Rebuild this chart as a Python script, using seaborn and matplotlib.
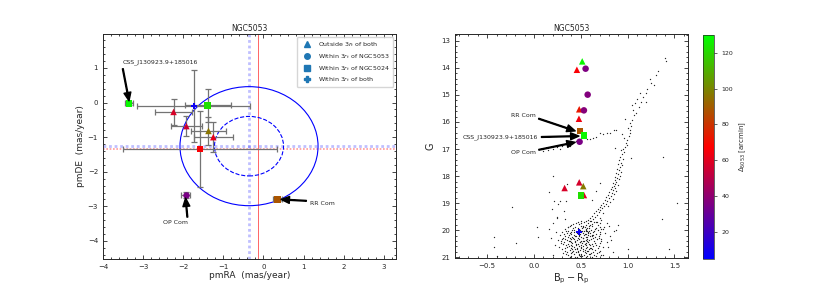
""" Proper-motion and CMD view of variable stars around NGC5053. """

###########
# Imports #
###########
import numpy as np
import pandas as pd
import matplotlib
matplotlib.use('Agg')
import matplotlib.pyplot as plt
from matplotlib.lines import Line2D
from matplotlib.patches import Circle
import seaborn as sns


########
# Data #
########
# Variable stars with proper motions (left panel)
pm_ra = [-3.35, -1.39, -1.74, -2.24, -1.92, -1.37, -1.25, -1.58, -1.94, 0.35]
pm_de = [-0.02, -0.08, -0.10, -0.27, -0.68, -0.82, -1.00, -1.34, -2.67, -2.80]
pm_ra_err = [0.10, 0.57, 1.41, 0.46, 0.38, 0.44, 0.49, 1.91, 0.12, 0.10]
pm_de_err = [0.05, 0.47, 1.03, 0.37, 0.28, 0.41, 0.44, 1.11, 0.08, 0.05]
pm_dist = [128, 122, 8, 58, 55, 96, 62, 66, 35, 88]
pm_kind = ['NGC5024', 'NGC5024', 'both', 'outside', 'outside', 'outside',
           'outside', 'NGC5024', 'NGC5053', 'NGC5024']

# Cluster mean motions
ngc5053_pm = (-0.36, -1.26)
ngc5024_pm = (-0.14, -1.35)
pm_radii = [1.72, 0.86]

# Variable stars on the CMD (right panel)
var_bp_rp = [0.515, 0.458, 0.551, 0.573, 0.483, 0.533, 0.480, 0.490,
             0.536, 0.487, 0.483, 0.327, 0.526, 0.533, 0.504, 0.476]
var_g = [13.76, 14.07, 14.03, 14.99, 15.53, 15.57, 15.88, 16.33,
         16.50, 16.73, 18.23, 18.44, 18.37, 18.70, 18.72, 20.07]
var_dist = [128, 66, 36, 37, 73, 38, 64, 88,
            128, 35, 57, 58, 97, 60, 122, 8]
var_kind = ['outside', 'outside', 'NGC5053', 'NGC5053', 'outside', 'NGC5053',
            'outside', 'NGC5024', 'NGC5024', 'NGC5053', 'outside', 'outside',
            'outside', 'outside', 'NGC5024', 'both']

# Cluster members on the CMD
cmd_bp_rp = [
    # upper giant branch
    1.40, 1.41, 1.32, 1.30, 1.24, 1.245, 1.28, 1.21, 1.20, 1.13, 1.16, 1.20,
    1.08, 1.14, 1.05, 1.12, 1.09, 1.07, 1.05, 0.975, 1.04, 1.02, 1.025, 1.01,
    0.99, 0.985, 0.97, 0.94, 1.06, 1.10, 1.03, 1.00, 0.96, 0.995,
    # horizontal branch
    0.85, 0.88, 0.81, 0.78, 0.71, 0.66, 0.63, 0.60, 0.57, 0.45, 0.40, 0.35,
    0.30, 0.25, 0.20, 0.15, 0.10, 0.38, 0.28, 0.74,
    # lower giant branch
    0.95, 0.93, 0.96, 0.94, 0.92, 0.95, 0.91, 0.93,
    0.90, 0.94, 0.92, 0.89, 0.91, 0.93, 0.88, 0.90,
    0.92, 0.87, 0.89, 0.91, 0.86, 0.88, 0.84, 0.87,
    0.90, 0.85, 0.83, 0.86, 0.82, 0.84, 0.88, 0.80,
    0.83, 0.85, 0.79, 0.82, 0.77, 0.80, 0.84, 0.76,
    0.78, 0.81, 0.74, 0.77, 0.72, 0.75, 0.79, 0.70,
    0.73, 0.68, 0.71, 0.66, 0.69, 0.74, 0.64, 0.67,
    0.62, 0.65, 0.60, 0.70, 0.63, 0.58, 0.61, 0.67,
    # turnoff and main sequence
    0.50, 0.55, 0.72,
    0.45, 0.53, 0.58, 0.64, 0.78,
    0.40, 0.48, 0.52, 0.56, 0.60, 0.68,
    0.38, 0.44, 0.50, 0.54, 0.57, 0.62, 0.70, 0.80,
    0.33, 0.42, 0.47, 0.51, 0.55, 0.59, 0.65, 0.74,
    0.36, 0.41, 0.45, 0.49, 0.53, 0.57, 0.61, 0.68, 0.85,
    0.30, 0.39, 0.43, 0.50, 0.55, 0.58, 0.63, 0.71,
    0.35, 0.40, 0.46, 0.52, 0.56, 0.60, 0.66, 0.76,
    0.28, 0.37, 0.44, 0.48, 0.53, 0.58, 0.62, 0.69,
    0.33, 0.41, 0.45, 0.50, 0.55, 0.60, 0.65, 0.81,
    0.30, 0.38, 0.43, 0.47, 0.52, 0.57, 0.63, 0.72,
    0.26, 0.35, 0.40, 0.46, 0.50, 0.55, 0.59, 0.67,
    0.32, 0.37, 0.44, 0.49, 0.53, 0.58, 0.64, 0.78,
    0.29, 0.36, 0.41, 0.47, 0.51, 0.56, 0.62, 0.70,
    0.34, 0.39, 0.45, 0.50, 0.54, 0.60, 0.66,
    0.27, 0.37, 0.43, 0.48, 0.52, 0.57, 0.63, 0.74,
    0.33, 0.40, 0.46, 0.50, 0.55, 0.61, 0.68,
    0.30, 0.38, 0.44, 0.49, 0.54, 0.59, 0.65,
    0.35, 0.42, 0.47, 0.52, 0.58, 0.63, 0.71,
    0.31, 0.39, 0.45, 0.50, 0.56, 0.61, 0.67,
    0.36, 0.43, 0.48, 0.53, 0.59, 0.64,
    0.40, 0.46, 0.51, 0.57, 0.62,
    0.47, 0.60, 0.66,
    0.42, 0.50, 0.62, 0.70,
    0.36, 0.47, 0.52, 0.59, 0.66, 0.75,
    0.34, 0.43, 0.47, 0.51, 0.55, 0.59, 0.64, 0.72,
    0.32, 0.38, 0.43, 0.49, 0.54, 0.58, 0.63, 0.70,
    0.31, 0.36, 0.42, 0.48, 0.52, 0.57, 0.62, 0.69,
    0.29, 0.33, 0.38, 0.44, 0.48, 0.52, 0.57, 0.61, 0.72,
    0.31, 0.39, 0.45, 0.49, 0.54, 0.59, 0.65,
    0.35, 0.41, 0.46, 0.50, 0.55, 0.60, 0.69,
    0.33, 0.41, 0.47, 0.52, 0.57, 0.62,
    0.34, 0.41, 0.48, 0.54, 0.60, 0.69,
    0.38, 0.44, 0.49, 0.55, 0.66, 0.72,
    # field stars and outliers
    0.20, 0.16, -0.23, -0.43, -0.43, -0.39, 0.03, -0.19,
    0.26, 0.21, 0.34, 0.355, 0.70, 1.00, 1.38, 1.53,
    1.37, 1.44, 1.035, 0.86, 0.28, 0.19, 0.32, 0.245,
    0.33, 0.16, 0.365, 0.04, 0.62, 0.66, 0.25, 0.20,
    0.23, 0.18, 0.22, 0.20, 0.82, 0.88, 0.79, 0.84,
    0.74, 0.90,
]
cmd_g = [
    # upper giant branch
    13.65, 13.74, 14.10, 14.25, 14.42, 14.55, 14.62, 14.79, 14.92, 14.94, 15.09, 15.26,
    15.31, 15.25, 15.38, 15.45, 15.68, 15.75, 15.93, 15.88, 16.15, 16.30, 16.42, 16.53,
    16.66, 16.78, 16.93, 16.45, 15.55, 15.15, 16.05, 16.22, 16.60, 16.85,
    # horizontal branch
    16.30, 16.31, 16.39, 16.42, 16.39, 16.54, 16.59, 16.63, 16.62, 16.72, 16.78, 16.84,
    16.88, 16.93, 16.98, 17.04, 17.08, 16.90, 17.00, 16.45,
    # lower giant branch
    16.98, 17.05, 17.12, 17.20, 17.28, 17.35, 17.42, 17.50,
    17.55, 17.60, 17.66, 17.72, 17.78, 17.83, 17.88, 17.93,
    17.98, 18.02, 18.07, 18.12, 18.15, 18.20, 18.24, 18.28,
    18.31, 18.35, 18.40, 18.44, 18.48, 18.52, 18.55, 18.58,
    18.62, 18.66, 18.70, 18.73, 18.78, 18.81, 18.84, 18.88,
    18.92, 18.95, 18.99, 19.02, 19.06, 19.09, 19.12, 19.15,
    19.18, 19.22, 19.26, 19.30, 19.33, 19.36, 19.38, 19.42,
    19.46, 19.50, 19.54, 19.55, 19.58, 19.62, 19.66, 19.68,
    # turnoff and main sequence
    19.64, 19.67, 19.63,
    19.73, 19.70, 19.75, 19.71, 19.74,
    19.81, 19.78, 19.83, 19.79, 19.82, 19.80,
    19.86, 19.89, 19.85, 19.88, 19.90, 19.86, 19.88, 19.85,
    19.95, 19.92, 19.96, 19.93, 19.95, 19.92, 19.94, 19.96,
    20.01, 19.99, 20.02, 19.98, 20.01, 20.03, 19.99, 20.00, 20.02,
    20.07, 20.05, 20.08, 20.06, 20.04, 20.07, 20.05, 20.08,
    20.11, 20.14, 20.12, 20.10, 20.13, 20.11, 20.14, 20.12,
    20.19, 20.17, 20.20, 20.18, 20.16, 20.19, 20.17, 20.20,
    20.23, 20.25, 20.22, 20.26, 20.24, 20.22, 20.25, 20.23,
    20.31, 20.29, 20.32, 20.30, 20.28, 20.31, 20.29, 20.32,
    20.35, 20.37, 20.34, 20.36, 20.38, 20.35, 20.37, 20.34,
    20.43, 20.41, 20.44, 20.42, 20.40, 20.43, 20.41, 20.44,
    20.47, 20.49, 20.46, 20.50, 20.48, 20.47, 20.49, 20.46,
    20.55, 20.53, 20.56, 20.54, 20.52, 20.55, 20.53,
    20.61, 20.59, 20.62, 20.60, 20.58, 20.61, 20.59, 20.62,
    20.67, 20.65, 20.68, 20.66, 20.64, 20.67, 20.65,
    20.71, 20.73, 20.70, 20.74, 20.72, 20.71, 20.73,
    20.79, 20.77, 20.80, 20.78, 20.76, 20.79, 20.77,
    20.83, 20.85, 20.82, 20.86, 20.84, 20.83, 20.85,
    20.91, 20.89, 20.92, 20.90, 20.88, 20.91,
    20.96, 20.98, 20.95, 20.97, 20.99,
    19.68, 19.66, 19.69,
    19.76, 19.74, 19.77, 19.75,
    19.87, 19.91, 19.87, 19.84, 19.91, 19.89,
    20.03, 20.00, 20.05, 20.02, 19.98, 20.01, 20.04, 19.97,
    20.15, 20.12, 20.16, 20.13, 20.15, 20.09, 20.16, 20.13,
    20.27, 20.24, 20.28, 20.21, 20.27, 20.26, 20.21, 20.28,
    20.39, 20.33, 20.40, 20.39, 20.33, 20.40, 20.38, 20.33, 20.39,
    20.51, 20.45, 20.52, 20.45, 20.51, 20.50, 20.46,
    20.63, 20.57, 20.64, 20.63, 20.56, 20.64, 20.58,
    20.75, 20.69, 20.76, 20.69, 20.75, 20.69,
    20.87, 20.81, 20.88, 20.81, 20.87, 20.82,
    20.99, 21.00, 20.94, 21.00, 20.95, 20.93,
    # field stars and outliers
    17.99, 18.60, 19.13, 20.26, 20.62, 20.95, 19.89, 20.47,
    19.02, 18.92, 18.93, 18.30, 18.25, 20.69, 17.28, 18.98,
    19.57, 20.68, 17.34, 16.95, 18.92, 19.22, 19.28, 19.55,
    19.60, 19.96, 19.89, 20.26, 18.90, 18.55, 19.50, 19.75,
    20.05, 20.30, 20.55, 20.90, 20.35, 20.00, 20.62, 20.81,
    20.90, 19.80,
]

# Legend text and marker for each group
kinds = ['outside', 'NGC5053', 'NGC5024', 'both']
kind_labels = ['Outside 3$r_t$ of both', 'Within 3$r_t$ of NGC5053',
               'Within 3$r_t$ of NGC5024', 'Within 3$r_t$ of both']
kind_markers = {'outside': '^', 'NGC5053': 'o', 'NGC5024': 's', 'both': 'P'}


#################
# Build tables  #
#################
pm_df = pd.DataFrame({'pmra': pm_ra, 'pmde': pm_de, 'era': pm_ra_err,
                      'ede': pm_de_err, 'dist': pm_dist, 'kind': pm_kind})
var_df = pd.DataFrame({'bp_rp': var_bp_rp, 'g': var_g,
                       'dist': var_dist, 'kind': var_kind})
cmd_df = pd.DataFrame({'bp_rp': cmd_bp_rp, 'g': cmd_g})

cmap = 'brg'
dmin, dmax = 4.9, 130
norm = plt.Normalize(dmin, dmax)


#########
# Style #
#########
sns.set_style('ticks')
plt.rcParams.update({
    'font.family': ['DejaVu Sans'],
    'xtick.direction': 'in', 'ytick.direction': 'in',
    'xtick.top': True, 'ytick.right': True,
    'xtick.minor.visible': True, 'ytick.minor.visible': True,
    'xtick.labelsize': 5, 'ytick.labelsize': 5,
    'xtick.major.size': 3, 'ytick.major.size': 3,
    'xtick.minor.size': 1.5, 'ytick.minor.size': 1.5,
    'xtick.major.width': 0.6, 'ytick.major.width': 0.6,
    'axes.linewidth': 0.7,
})

fig = plt.figure(figsize=(8.3, 2.91), dpi=100)
ax1 = fig.add_axes([0.124, 0.110, 0.353, 0.773])
ax2 = fig.add_axes([0.548, 0.113, 0.281, 0.770])
cax = fig.add_axes([0.847, 0.110, 0.013, 0.770])


##############
# Left panel #
##############
dots = (0, (1, 1))
ax1.axvline(ngc5053_pm[0], color='blue', ls=dots, lw=2.0, alpha=0.25, zorder=0)
ax1.axhline(ngc5053_pm[1], color='blue', ls=dots, lw=2.0, alpha=0.25, zorder=0)
ax1.axvline(ngc5024_pm[0], color='red', ls='-', lw=0.6, alpha=0.7, zorder=0)
ax1.axhline(ngc5024_pm[1], color='red', ls=dots, lw=1.2, alpha=0.4, zorder=0)

for r, ls in zip(pm_radii, ['-', '--']):
    ax1.add_patch(Circle(ngc5053_pm, r, fill=False, ec='blue', ls=ls, lw=0.8))

ax1.errorbar(pm_df['pmra'], pm_df['pmde'], xerr=pm_df['era'], yerr=pm_df['ede'],
             fmt='none', ecolor='0.45', elinewidth=0.9, capsize=2, capthick=0.9,
             zorder=1)

for k in kinds:
    sub = pm_df[pm_df['kind'] == k]
    sns.scatterplot(data=sub, x='pmra', y='pmde', hue='dist', palette=cmap,
                    hue_norm=norm, marker=kind_markers[k], s=22, linewidth=0,
                    legend=False, ax=ax1, zorder=3)

arrow = dict(facecolor='black', edgecolor='black', width=0.6, headwidth=5,
             headlength=6, shrink=0.0)
ax1.annotate('CSS_J130923.9+185016', xy=(-3.35, 0.05), xytext=(-3.52, 1.12),
             fontsize=4.5, arrowprops=arrow)
ax1.annotate('OP Com', xy=(-1.94, -2.76), xytext=(-2.2, -3.52),
             fontsize=4.5, ha='center', arrowprops=arrow)
ax1.annotate('RR Com', xy=(0.44, -2.80), xytext=(1.15, -2.96),
             fontsize=4.5, arrowprops=arrow)

handles = [Line2D([], [], ls='none', marker=kind_markers[k], color='C0',
                  markersize=4) for k in kinds]
ax1.legend(handles, kind_labels, loc='upper right', fontsize=4.5,
           frameon=True, handletextpad=0.8, borderpad=0.5, labelspacing=0.45)

ax1.set_xlim(-4, 3.3)
ax1.set_ylim(-4.52, 1.98)
ax1.set_xticks(range(-4, 4))
ax1.set_yticks(range(-4, 2))
ax1.set_xlabel('pmRA  (mas/year)', fontsize=6.5, labelpad=1)
ax1.set_ylabel('pmDE  (mas/year)', fontsize=6.5, labelpad=2)
ax1.set_title('NGC5053', fontsize=5.5, pad=2)


###############
# Right panel #
###############
sns.scatterplot(data=cmd_df, x='bp_rp', y='g', color='0.15', s=0.9,
                marker='o', linewidth=0, legend=False, ax=ax2, zorder=1)

for k in kinds:
    sub = var_df[var_df['kind'] == k]
    sns.scatterplot(data=sub, x='bp_rp', y='g', hue='dist', palette=cmap,
                    hue_norm=norm, marker=kind_markers[k], s=22, linewidth=0,
                    legend=False, ax=ax2, zorder=3)

ax2.annotate('RR Com', xy=(0.44, 16.33), xytext=(-0.25, 15.8),
             fontsize=4.5, arrowprops=arrow)
ax2.annotate('CSS_J130923.9+185016', xy=(0.48, 16.52), xytext=(-0.76, 16.6),
             fontsize=4.5, arrowprops=arrow)
ax2.annotate('OP Com', xy=(0.44, 16.75), xytext=(-0.25, 17.2),
             fontsize=4.5, arrowprops=arrow)

ax2.set_xlim(-0.845, 1.645)
ax2.set_ylim(21.03, 12.75)
ax2.set_xticks([-0.5, 0.0, 0.5, 1.0, 1.5])
ax2.set_yticks(range(13, 22))
ax2.set_xlabel(r'$\mathrm{B_p - R_p}$', fontsize=7, labelpad=2)
ax2.set_ylabel('G', fontsize=7, labelpad=4)
ax2.set_title('NGC5053', fontsize=5.5, pad=2)


############
# Colorbar #
############
sm = plt.cm.ScalarMappable(cmap=cmap, norm=norm)
cb = fig.colorbar(sm, cax=cax)
cb.set_ticks([20, 40, 60, 80, 100, 120])
cb.ax.tick_params(labelsize=4.5, direction='out', length=2, width=0.5,
                  which='major')
cb.ax.minorticks_off()
cb.outline.set_linewidth(0.5)
cb.set_label(r'$\Delta_{5053}$ [arcmin]', fontsize=5, labelpad=3)

fig.savefig('out.png', dpi=100)
